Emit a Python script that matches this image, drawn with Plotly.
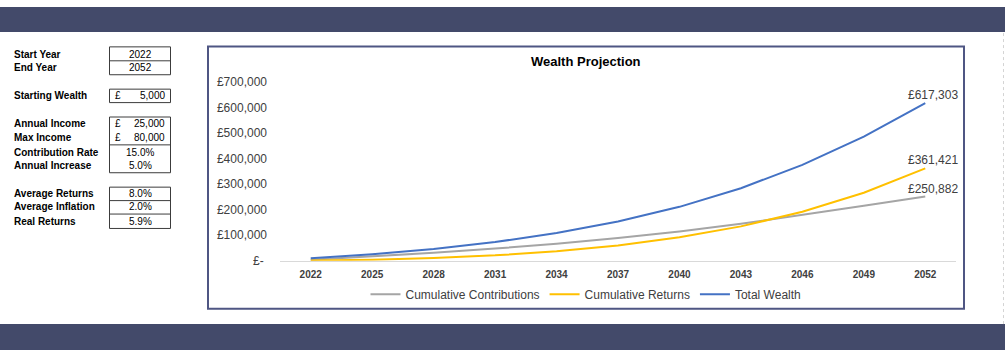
import plotly.graph_objects as go

# ---------------- data ----------------
years = [2022, 2025, 2028, 2031, 2034, 2037, 2040, 2043, 2046, 2049, 2052]
cum_contributions = [3750, 16163, 30533, 47167, 66424, 88715, 114521, 144395, 178883, 214883, 250882]
cum_returns = [515, 3740, 10126, 20667, 36607, 59496, 91257, 134276, 191490, 266108, 361421]
total_wealth = [9265, 24903, 45659, 72834, 108031, 153211, 210778, 283671, 375373, 485991, 617303]

series_names = ["Cumulative Contributions", "Cumulative Returns", "Total Wealth"]
series_colors = ["#A5A5A5", "#FFC000", "#4472C4"]

y_tick_values = [0, 100000, 200000, 300000, 400000, 500000, 600000, 700000]
y_tick_labels = ["£-\u00a0", "£100,000", "£200,000", "£300,000", "£400,000",
                 "£500,000", "£600,000", "£700,000"]

input_labels = ["Start Year", "End Year", "Starting Wealth", "Annual Income", "Max Income",
                "Contribution Rate", "Annual Increase", "Average Returns",
                "Average Inflation", "Real Returns"]
input_values = ["2022", "2052", "5,000", "25,000", "80,000", "15.0%", "5.0%",
                "8.0%", "2.0%", "5.9%"]
input_is_currency = [False, False, True, True, True, False, False, False, False, False]

# ---------------- layout helpers ----------------
W, H = 1005, 357
FONT = "Liberation Sans"
BAND = "#434a6a"


def fx(px):
    return px / W


def fy(py):
    return 1 - py / H


fig = go.Figure()
for name, vals, col in zip(series_names, [cum_contributions, cum_returns, total_wealth], series_colors):
    fig.add_trace(go.Scatter(x=years, y=vals, mode="lines", name=name,
                             line=dict(color=col, width=2), hoverinfo="skip"))

shapes = []
annotations = []

# bands
shapes.append(dict(type="rect", xref="paper", yref="paper", x0=0, x1=1, y0=fy(26), y1=1,
                   fillcolor=BAND, line=dict(width=0), layer="below"))
shapes.append(dict(type="rect", xref="paper", yref="paper", x0=0, x1=1, y0=0, y1=fy(330),
                   fillcolor=BAND, line=dict(width=0), layer="below"))
shapes.append(dict(type="line", xref="paper", yref="paper", x0=fx(1003.5), x1=fx(1003.5),
                   y0=fy(330), y1=fy(26), line=dict(color="#d4d4d4", width=1, dash="dot"),
                   layer="below"))
# chart box
shapes.append(dict(type="rect", xref="paper", yref="paper", x0=fx(208), x1=fx(964),
                   y0=fy(314), y1=fy(41), fillcolor="white",
                   line=dict(color="#4f5683", width=2), layer="below"))

# input table
row_y = [49, 63, 92, 121, 136, 151, 165, 194, 208, 223]
cell_x0, cell_x1 = 109.5, 170.5
groups = [(41.5, 70.5, [56]), (85.5, 99.5, []), (114.5, 172.5, [143.5]),
          (187.5, 230.5, [201.5, 215.5])]
for top, bot, divs in groups:
    shapes.append(dict(type="rect", xref="paper", yref="paper", x0=fx(cell_x0), x1=fx(cell_x1),
                       y0=fy(bot), y1=fy(top), line=dict(color="#3c3c3c", width=1),
                       fillcolor="rgba(0,0,0,0)"))
    for d in divs:
        shapes.append(dict(type="line", xref="paper", yref="paper", x0=fx(cell_x0),
                           x1=fx(cell_x1), y0=fy(d), y1=fy(d),
                           line=dict(color="#3c3c3c", width=1)))

for lab, val, cur, yy in zip(input_labels, input_values, input_is_currency, row_y):
    annotations.append(dict(xref="paper", yref="paper", x=fx(12), y=fy(yy), text="<b>" + lab + "</b>",
                            showarrow=False, xanchor="left", yanchor="middle",
                            font=dict(family=FONT, size=10, color="#000000")))
    if cur:
        annotations.append(dict(xref="paper", yref="paper", x=fx(113), y=fy(yy), text="£",
                                showarrow=False, xanchor="left", yanchor="middle",
                                font=dict(family=FONT, size=10, color="#000000")))
        annotations.append(dict(xref="paper", yref="paper", x=fx(167), y=fy(yy), text=val,
                                showarrow=False, xanchor="right", yanchor="middle",
                                font=dict(family=FONT, size=10, color="#000000")))
    else:
        annotations.append(dict(xref="paper", yref="paper", x=fx(140), y=fy(yy), text=val,
                                showarrow=False, xanchor="center", yanchor="middle",
                                font=dict(family=FONT, size=10, color="#000000")))

# title
annotations.append(dict(xref="paper", yref="paper", x=fx(586), y=fy(57),
                        text="<b>Wealth Projection</b>", showarrow=False,
                        xanchor="center", yanchor="middle",
                        font=dict(family=FONT, size=13, color="#000000")))

# end-point data labels
for vals in [cum_contributions, cum_returns, total_wealth]:
    annotations.append(dict(xref="x", yref="y", x=years[-1], y=vals[-1],
                            text="£{:,}".format(vals[-1]), showarrow=False,
                            xanchor="center", yanchor="middle", xshift=8, yshift=8,
                            font=dict(family=FONT, size=12, color="#404040")))

fig.update_layout(
    width=W, height=H, autosize=False,
    margin=dict(l=0, r=0, t=0, b=0),
    paper_bgcolor="white", plot_bgcolor="rgba(0,0,0,0)",
    shapes=shapes, annotations=annotations,
    showlegend=True,
    legend=dict(orientation="h", x=fx(586), xanchor="center", y=fy(299), yanchor="middle",
                font=dict(family=FONT, size=12, color="#404040"),
                bgcolor="rgba(0,0,0,0)", itemwidth=30, tracegroupgap=0),
    xaxis=dict(domain=[fx(280), fx(956)], range=[2020.5, 2053.5],
               tickmode="array", tickvals=years, ticktext=[str(y) for y in years],
               showline=True, linecolor="#d9d9d9", linewidth=1, showgrid=False,
               zeroline=False, ticks="", ticklabelstandoff=4,
               tickfont=dict(family=FONT, size=10, color="#404040", weight="bold")),
    yaxis=dict(domain=[fy(264), fy(78)], range=[0, 700000],
               tickmode="array", tickvals=y_tick_values, ticktext=y_tick_labels,
               showgrid=False, zeroline=False, showline=False, ticks="",
               ticklabelstandoff=12,
               tickfont=dict(family=FONT, size=12, color="#404040")),
    font=dict(family=FONT),
)

fig.write_html("out.html", config={"displayModeBar": False},
               post_script="document.documentElement.style.margin='0px';"
                           "document.body.style.margin='0px';"
                           "document.body.style.overflow='hidden';")
